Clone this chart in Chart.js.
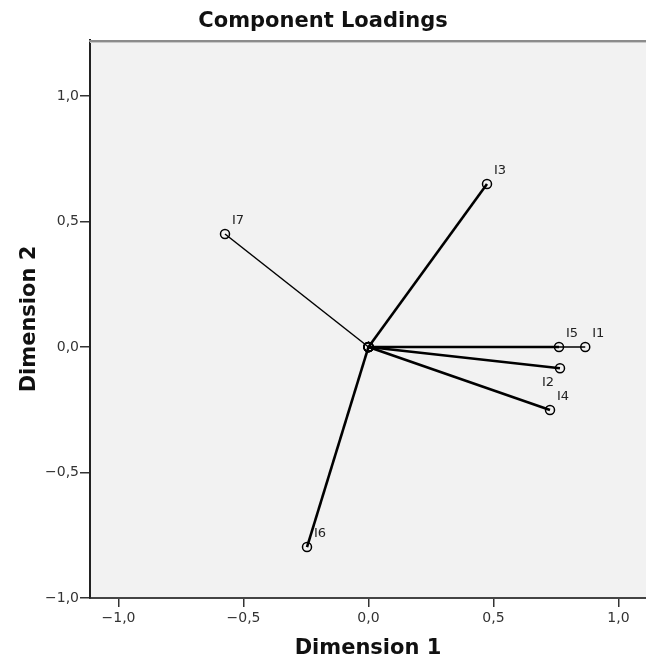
<!DOCTYPE html>
<html>
<head>
<meta charset="utf-8">
<script src="https://cdn.jsdelivr.net/npm/chart.js@4/dist/chart.umd.min.js"></script>
<style>
  html, body { margin: 0; padding: 0; background: #ffffff; overflow: hidden; }
  #wrap { position: relative; width: 646px; height: 662px; }
</style>
</head>
<body>
<div id="wrap"><canvas id="c"></canvas></div>
<script>
// ---- data ----
const items = ['I1', 'I2', 'I3', 'I4', 'I5', 'I6', 'I7'];
const dim1  = [0.867, 0.766, 0.474, 0.726, 0.762, -0.246, -0.574];
const dim2  = [0.000, -0.085, 0.649, -0.251, 0.000, -0.797, 0.450];
const tickValues = [-1.0, -0.5, 0.0, 0.5, 1.0];
const chartTitle = 'Component Loadings';
const xTitle = 'Dimension 1';
const yTitle = 'Dimension 2';

// ---- styling ----
const thinItems = ['I1', 'I7'];
const labelsBelowLeft = ['I2'];
const FONT = 'DejaVu Sans';

function fmt(v) {
  const s = Math.abs(v).toFixed(1).replace('.', ',');
  return (v < 0 ? '\u2212' : '') + s;
}

const datasets = items.map((name, i) => ({
  label: name,
  data: [{x: 0, y: 0}, {x: dim1[i], y: dim2[i]}],
  showLine: true,
  borderColor: '#000000',
  borderWidth: thinItems.includes(name) ? 1.5 : 2.6,
  pointRadius: 4.5,
  pointBorderWidth: 1.5,
  pointBorderColor: '#000000',
  pointBackgroundColor: 'rgba(0,0,0,0)',
  order: thinItems.includes(name) ? 2 : 1
}));

const plotBg = {
  id: 'plotBg',
  beforeDraw(chart) {
    const {ctx, chartArea: a} = chart;
    ctx.save();
    ctx.fillStyle = '#f2f2f2';
    ctx.fillRect(a.left, a.top, chart.width - a.left, a.bottom - a.top);
    ctx.restore();
  },
  afterDraw(chart) {
    const {ctx, chartArea: a} = chart;
    ctx.save();
    ctx.strokeStyle = '#8c8c8c';
    ctx.lineWidth = 2;
    ctx.beginPath();
    ctx.moveTo(a.left - 1, a.top + 1);
    ctx.lineTo(chart.width, a.top + 1);
    ctx.stroke();
    ctx.strokeStyle = '#c8c8c8';
    ctx.lineWidth = 1;
    ctx.beginPath();
    ctx.moveTo(a.left, a.top + 2.5);
    ctx.lineTo(chart.width, a.top + 2.5);
    ctx.stroke();
    ctx.restore();
  }
};

const pointLabels = {
  id: 'pointLabels',
  afterDatasetsDraw(chart) {
    const {ctx} = chart;
    const xs = chart.scales.x, ys = chart.scales.y;
    ctx.save();
    ctx.font = '13px "' + FONT + '"';
    ctx.fillStyle = '#222222';
    ctx.textBaseline = 'middle';
    items.forEach((name, i) => {
      const px = xs.getPixelForValue(dim1[i]);
      const py = ys.getPixelForValue(dim2[i]);
      if (labelsBelowLeft.includes(name)) {
        ctx.textAlign = 'right';
        ctx.fillText(name, px - 6, py + 14);
      } else {
        ctx.textAlign = 'left';
        ctx.fillText(name, px + 7, py - 13);
      }
    });
    ctx.restore();
  }
};

const tickFont = {family: FONT, size: 14};
const titleFont = {family: FONT, size: 21, weight: 'bold'};

new Chart(document.getElementById('c'), {
  type: 'scatter',
  data: { datasets },
  options: {
    responsive: true,
    maintainAspectRatio: false,
    animation: false,
    layout: { padding: 0, autoPadding: false },
    plugins: {
      legend: { display: false },
      tooltip: { enabled: false },
      title: {
        display: true,
        text: chartTitle,
        color: '#111111',
        font: titleFont,
        padding: { top: 9, bottom: 5.8 }
      }
    },
    scales: {
      x: {
        type: 'linear',
        min: -1.114,
        max: 1.11,
        afterBuildTicks: s => { s.ticks = tickValues.map(v => ({value: v})); },
        afterFit: s => { s.height = 64; s.paddingLeft = 0; s.paddingRight = 0; },
        ticks: { callback: v => fmt(v), font: tickFont, color: '#333333', padding: 3, maxRotation: 0 },
        grid: { drawOnChartArea: false, drawTicks: true, tickLength: 9, color: '#333333', lineWidth: 1.5 },
        border: { display: true, color: '#444444', width: 2 },
        title: { display: true, text: xTitle, font: titleFont, color: '#111111', padding: { top: 0, bottom: 1 } }
      },
      y: {
        type: 'linear',
        min: -1.0,
        max: 1.223,
        afterBuildTicks: s => { s.ticks = tickValues.map(v => ({value: v})); },
        afterFit: s => { s.width = 90; s.paddingTop = 0; s.paddingBottom = 0; },
        ticks: { callback: v => fmt(v), font: tickFont, color: '#333333', padding: 1 },
        grid: { drawOnChartArea: false, drawTicks: true, tickLength: 10, color: '#333333', lineWidth: 1.5 },
        border: { display: true, color: '#222222', width: 2 },
        title: { display: true, text: yTitle, font: titleFont, color: '#111111', padding: { top: 17, bottom: 0 } }
      }
    }
  },
  plugins: [plotBg, pointLabels]
});
</script>
</body>
</html>
